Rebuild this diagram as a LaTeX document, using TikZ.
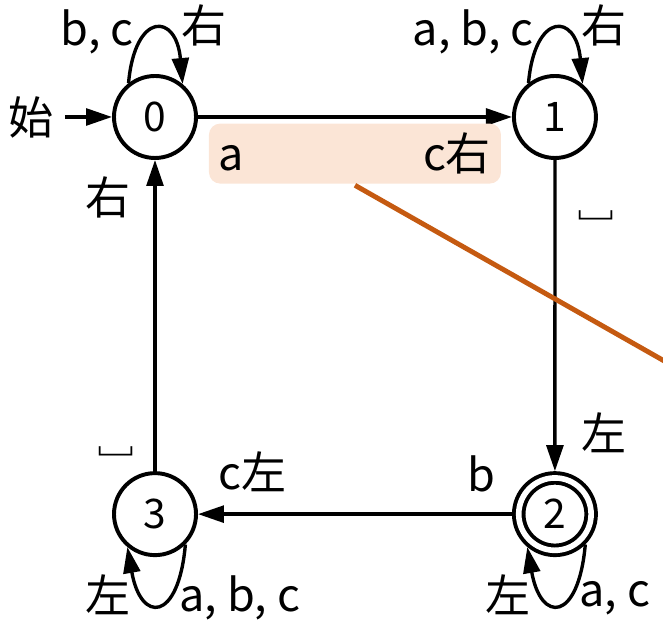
\documentclass[tikz,border=0pt]{standalone}
\usepackage{fontspec}
\setmainfont{Noto Sans CJK JP}
\usetikzlibrary{positioning, arrows.meta}
\definecolor{notefill}{HTML}{FBE5D6}
\definecolor{noteline}{HTML}{C55A11}

\begin{document}
\begin{tikzpicture}[
    ->,>={Triangle[length=0.65cm, width=0.42cm]},auto,
    line width=2.4pt,
    node distance = 7.78cm and 7.85cm,
    state/.style={draw, circle, line width=2.8pt, minimum size=2.05cm, inner sep=0pt, font=\fontsize{29}{34}\selectfont},
    accept/.style={state, double, double distance=4pt, minimum size=1.81cm, outer sep=4.8pt},
    lbl/.style={inner sep=2pt, font=\fontsize{32}{38}\selectfont},
    note/.style={fill=notefill, rounded corners=8pt, minimum width=7.3cm, minimum height=1.5cm, inner xsep=0.25cm, text width=6.8cm, font=\fontsize{32}{38}\selectfont},
]
\useasboundingbox (0,0) rectangle (16.575,15.775);

\node[state] (q0) at (3.875,12.85) {0};
\node[state, right=of q0] (q1) {1};
\node[state, below=of q0] (q3) {3};
\node[accept, right=of q3] (q2) {2};
\node[lbl, left=1.18cm of q0, inner xsep=7pt] (start) {始};
\coordinate (callout) at (17.5,6.243);

\draw (start) -- (q0);
\draw (q0) -- node[note, below=3.5pt] (note) {a\hfill c右} (q1);
\draw (q1) -- node[lbl, pos=0.177, right=0.35cm] {␣} node[lbl, pos=0.875, right=0.55cm] {左} (q2);
\draw (q2) -- node[lbl, pos=0.096, above=0.45cm] {b} node[lbl, pos=0.825, above=0.45cm] {c左} (q3);
\draw (q3) -- node[lbl, pos=0.064, left=0.3cm] {␣} node[lbl, pos=0.878, left=0.5cm] {右} (q0);

\draw (q0.128) .. controls +(85:1.8) and +(95:1.8) .. (q0.50)
    node[lbl, pos=0.35, left=5pt, yshift=2pt] {b, c} node[lbl, pos=0.6, right=10pt, yshift=5pt] {右};
\draw (q1.128) .. controls +(85:1.8) and +(95:1.8) .. (q1.50)
    node[lbl, pos=0.35, left=5pt, yshift=2pt] {a, b, c} node[lbl, pos=0.6, right=10pt, yshift=5pt] {右};
\draw (q3.-45) .. controls +(-95:1.95) and +(-80:1.95) .. (q3.-130)
    node[lbl, pos=0.35, right=4pt] {a, b, c} node[lbl, pos=0.7, left=7pt] {左};
\draw (q2.-45) .. controls +(-95:1.95) and +(-80:1.95) .. (q2.-130)
    node[lbl, pos=0.35, right=4pt] {a, c} node[lbl, pos=0.7, left=7pt] {左};

\draw[-, noteline, line width=3.5pt] (note.south) -- (callout);
\end{tikzpicture}
\end{document}
